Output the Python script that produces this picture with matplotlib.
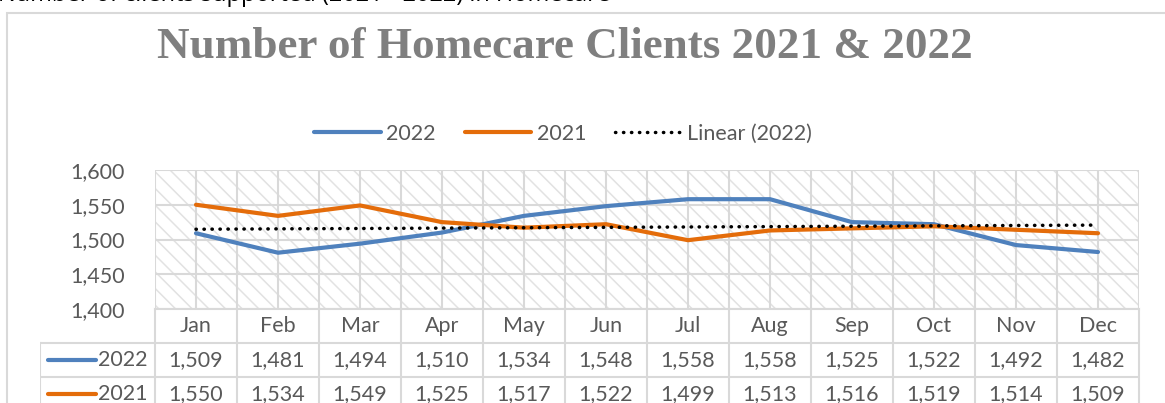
import matplotlib
matplotlib.use("Agg")
import matplotlib.pyplot as plt
from matplotlib.patches import Rectangle
from matplotlib.lines import Line2D
import numpy as np

# ── data ──────────────────────────────────────────────────────────────────────
MONTHS = ["Jan", "Feb", "Mar", "Apr", "May", "Jun",
          "Jul", "Aug", "Sep", "Oct", "Nov", "Dec"]
clients_2022 = [1509, 1481, 1494, 1510, 1534, 1548, 1558, 1558, 1525, 1522, 1492, 1482]
clients_2021 = [1550, 1534, 1549, 1525, 1517, 1522, 1499, 1513, 1516, 1519, 1514, 1509]
Y_TICKS = [1400, 1450, 1500, 1550, 1600]

TITLE = "Number of Homecare Clients 2021 & 2022"

BLUE = "#4f81bd"
ORANGE = "#e46c0a"
GRID = "#d9d9d9"
TXT = "#595959"
FONT = "Lato"

W, H = 1165, 403


def fx(px):
    return px / W


def fy(py):
    return 1 - py / H


fig = plt.figure(figsize=(W / 100, H / 100), dpi=100)

# outer chart border (chart continues past the right/bottom edge)
fig.add_artist(Rectangle((fx(7), -0.2), 2, fy(13) + 0.2, transform=fig.transFigure,
                         fill=False, edgecolor=GRID, lw=1.5))

# caption line above the chart, mostly cut off by the top edge
fig.text(fx(-2), fy(1), "Number of clients supported (2021 - 2022) in Homecare",
         fontsize=17, family="Open Sans", color="black", va="baseline")

fig.text(fx(565), fy(47), TITLE, ha="center", va="center", fontsize=32.5,
         family="Liberation Serif", weight="bold", color="#7f7f7f")

# ── plot area ─────────────────────────────────────────────────────────────────
x = np.arange(len(MONTHS))
ax = fig.add_axes([fx(155), fy(309), fx(1139) - fx(155), fy(170) - fy(309)])
ax.set_xlim(-0.5, len(MONTHS) - 0.5)
ax.set_ylim(Y_TICKS[0], Y_TICKS[-1])

plt.rcParams["hatch.linewidth"] = 1.1
ax.add_patch(Rectangle((0, 0), 1, 1, transform=ax.transAxes, facecolor="white",
                       edgecolor="#e2e2e2", hatch="\\\\", lw=0, zorder=0))

for v in Y_TICKS:
    ax.axhline(v, color=GRID, lw=1.5, zorder=1)
for v in np.arange(-0.5, len(MONTHS), 0.5):
    ax.axvline(v, color=GRID, lw=1.5, zorder=1)

ax.plot(x, clients_2022, color=BLUE, lw=3, solid_capstyle="round", zorder=3, label="2022")
ax.plot(x, clients_2021, color=ORANGE, lw=3, solid_capstyle="round", zorder=3, label="2021")
slope, icpt = np.polyfit(x, clients_2022, 1)
ax.plot(x, slope * x + icpt, color="black", lw=2.5, linestyle=(0, (0.1, 2.2)),
        dash_capstyle="round", zorder=4, label="Linear (2022)")

for s in ax.spines.values():
    s.set_visible(False)
ax.set_xticks([])
ax.set_yticks(Y_TICKS)
ax.set_yticklabels([f"{v:,}" for v in Y_TICKS], fontsize=15.5, family=FONT, color=TXT)
ax.tick_params(axis="y", length=0, pad=22)

fig.legend(handles=[Line2D([], [], color=BLUE, lw=3, solid_capstyle="round"),
                    Line2D([], [], color=ORANGE, lw=3, solid_capstyle="round"),
                    Line2D([], [], color="black", lw=2.5, linestyle=(0, (0.1, 2.2)),
                           dash_capstyle="round")],
           labels=["2022", "2021", "Linear (2022)"],
           loc="center", bbox_to_anchor=(fx(563), fy(134)), ncol=3, frameon=False,
           prop={"family": FONT, "size": 15.5}, labelcolor=TXT,
           handlelength=3.1, handletextpad=0.25, columnspacing=1.35)

# ── data table ────────────────────────────────────────────────────────────────
cat_w = (1139 - 155) / len(MONTHS)
left = -0.5 - (155 - 40) / cat_w
row_h = 34
n_rows = (H - 309) / row_h
tax = fig.add_axes([fx(40), 0, fx(1139) - fx(40), fy(309)])
tax.set_xlim(left, len(MONTHS) - 0.5)
tax.set_ylim(n_rows, 0)
tax.axis("off")

for k in range(len(MONTHS) + 1):
    tax.plot([k - 0.5, k - 0.5], [0, n_rows], color=GRID, lw=1.5, clip_on=False)
tax.plot([left, left], [1, n_rows], color=GRID, lw=1.5)
tax.plot([-0.5, len(MONTHS) - 0.5], [0, 0], color=GRID, lw=1.5, clip_on=False)
for r in (1, 2):
    tax.plot([left, len(MONTHS) - 0.5], [r, r], color=GRID, lw=1.5)

tkw = dict(ha="center", va="center", fontsize=15.5, family=FONT, color=TXT)
for i, m in enumerate(MONTHS):
    tax.text(i, 0.5, m, **tkw)
for r, (vals, col, name) in enumerate([(clients_2022, BLUE, "2022"),
                                       (clients_2021, ORANGE, "2021")], start=1):
    for i, v in enumerate(vals):
        tax.text(i, r + 0.5, f"{v:,}", **tkw)
    x0 = -0.5 - (155 - 48) / cat_w
    x1 = -0.5 - (155 - 96) / cat_w
    tax.plot([x0, x1], [r + 0.5, r + 0.5], color=col, lw=3, solid_capstyle="round")
    tax.text(-0.5 - 7 / cat_w, r + 0.5, name, ha="right", va="center",
             fontsize=15.5, family=FONT, color=TXT)

fig.savefig("out.png", dpi=100)
